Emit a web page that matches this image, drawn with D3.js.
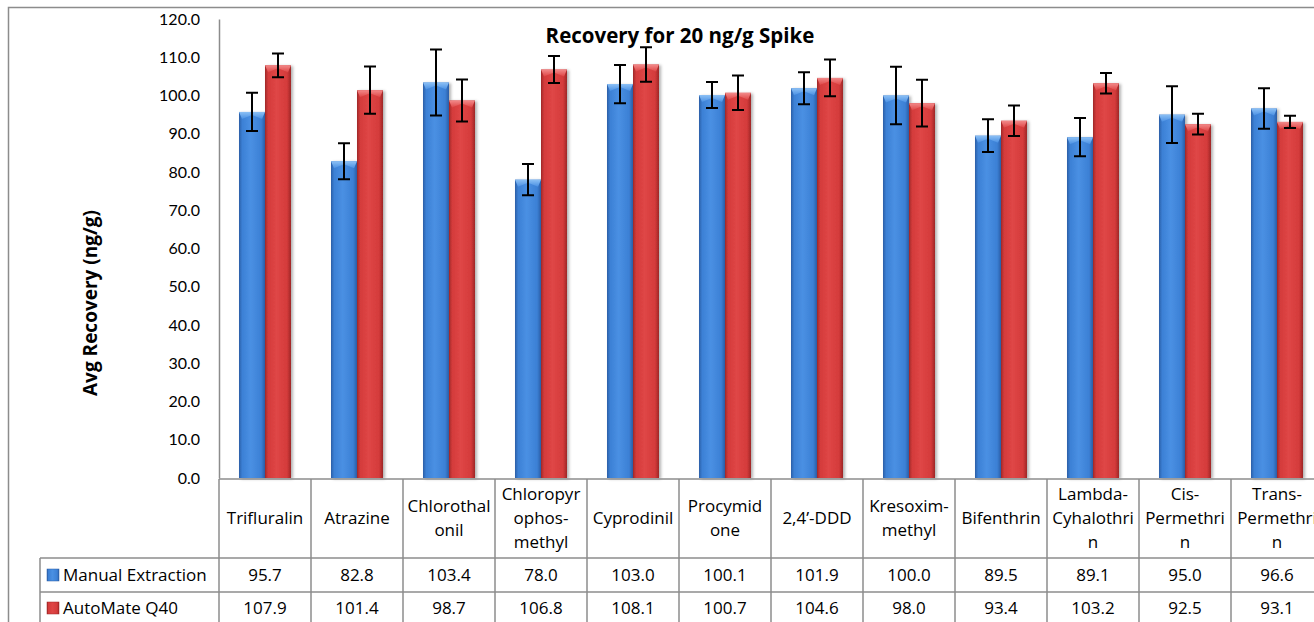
<!DOCTYPE html>
<html>
<head>
<meta charset="utf-8">
<script src="https://cdn.jsdelivr.net/npm/d3@7"></script>
<style>
  body { margin: 0; background: #fff; }
  svg { display: block; font-family: "Open Sans", Lato, sans-serif; }
</style>
</head>
<body>
<svg id="chart" width="1314" height="622"></svg>
<script>
// data
var categories = ["Trifluralin", "Atrazine", "Chlorothalonil", "Chloropyrophos-methyl", "Cyprodinil",
  "Procymidone", "2,4’-DDD", "Kresoxim-methyl", "Bifenthrin", "Lambda-Cyhalothrin", "Cis-Permethrin", "Trans-Permethrin"];
var headerLines = [["Trifluralin"], ["Atrazine"], ["Chlorothal", "onil"], ["Chloropyr", "ophos-", "methyl"],
  ["Cyprodinil"], ["Procymid", "one"], ["2,4’-DDD"], ["Kresoxim-", "methyl"], ["Bifenthrin"],
  ["Lambda-", "Cyhalothri", "n"], ["Cis-", "Permethri", "n"], ["Trans-", "Permethri", "n"]];
var seriesNames = ["Manual Extraction", "AutoMate Q40"];
var manual = [95.7, 82.8, 103.4, 78.0, 103.0, 100.1, 101.9, 100.0, 89.5, 89.1, 95.0, 96.6];
var automate = [107.9, 101.4, 98.7, 106.8, 108.1, 100.7, 104.6, 98.0, 93.4, 103.2, 92.5, 93.1];
var manualErr = [5.0, 4.7, 8.6, 4.1, 5.0, 3.4, 4.2, 7.5, 4.3, 5.0, 7.4, 5.3];
var automateErr = [3.1, 6.2, 5.5, 3.5, 4.5, 4.5, 4.8, 6.1, 4.0, 2.7, 2.7, 1.6];
var yTicks = [0, 10, 20, 30, 40, 50, 60, 70, 80, 90, 100, 110, 120];

var series = [
  {name: seriesNames[0], values: manual, err: manualErr, key: "blue"},
  {name: seriesNames[1], values: automate, err: automateErr, key: "red"}
];

var svg = d3.select("#chart");
var grid = "#8c8c8c";

var cellW = 92;
var left = 219, plotTop = 19, plotBottom = 478;
var x = d3.scaleBand()
  .domain(categories)
  .range([left, left + cellW * categories.length]);
var xs = d3.scaleBand()
  .domain(seriesNames)
  .range([20, 72]);
var y = d3.scaleLinear()
  .domain([0, 120])
  .range([plotBottom, plotTop]);

// gradients
var defs = svg.append("defs");
var palette = {
  blue: {edge: "#2b5ea6", mid: "#3c80d5", light: "#4a90e3", top: "#8cc0f5"},
  red: {edge: "#9e2626", mid: "#d43b3b", light: "#df4646", top: "#f28a8a"}
};
Object.keys(palette).forEach(function(k) {
  var p = palette[k];
  var g = defs.append("linearGradient").attr("id", "body-" + k).attr("x1", "0").attr("x2", "1");
  g.append("stop").attr("offset", "0").attr("stop-color", p.edge);
  g.append("stop").attr("offset", "0.12").attr("stop-color", p.mid);
  g.append("stop").attr("offset", "0.45").attr("stop-color", p.light);
  g.append("stop").attr("offset", "0.85").attr("stop-color", p.mid);
  g.append("stop").attr("offset", "1").attr("stop-color", p.edge);
  var t = defs.append("linearGradient").attr("id", "top-" + k).attr("x1", "0").attr("x2", "0").attr("y1", "0").attr("y2", "1");
  t.append("stop").attr("offset", "0").attr("stop-color", p.top);
  t.append("stop").attr("offset", "1").attr("stop-color", p.light);
});
var shadow = defs.append("filter").attr("id", "shadow").attr("x", "-20%").attr("y", "-5%").attr("width", "150%").attr("height", "115%");
shadow.append("feDropShadow").attr("dx", 2).attr("dy", 1).attr("stdDeviation", 1.5)
  .attr("flood-color", "#000").attr("flood-opacity", 0.3);

// outer chart border
svg.append("path")
  .attr("d", "M8.5,622 V7.5 H1314")
  .attr("fill", "none").attr("stroke", grid).attr("stroke-width", 1.5);

// title
svg.append("text")
  .attr("x", 680).attr("y", 43)
  .attr("text-anchor", "middle")
  .attr("font-weight", "bold").attr("font-size", 20.5)
  .text("Recovery for 20 ng/g Spike");

// y axis label
svg.append("text")
  .attr("transform", "translate(97,303) rotate(-90)")
  .attr("text-anchor", "middle")
  .attr("font-weight", "bold").attr("font-size", 19)
  .text("Avg Recovery (ng/g)");

// y axis
var yAxis = svg.append("g")
  .attr("transform", "translate(" + left + ",0)")
  .call(d3.axisLeft(y).tickValues(yTicks).tickFormat(d3.format(".1f")).tickSize(0).tickSizeOuter(0).tickPadding(19));
yAxis.select(".domain").attr("stroke", grid).attr("stroke-width", 1.5);
yAxis.selectAll("text").attr("font-size", 16).attr("font-family", "Lato").attr("fill", "#000");

// bars
var groups = svg.selectAll("g.cat")
  .data(categories)
  .enter().append("g")
  .attr("class", "cat")
  .attr("transform", function(d) { return "translate(" + x(d) + ",0)"; });

series.forEach(function(s) {
  var bw = xs.bandwidth();
  var bar = groups.append("g").attr("filter", "url(#shadow)");
  bar.append("rect")
    .attr("x", xs(s.name))
    .attr("y", function(d, i) { return y(s.values[i]); })
    .attr("width", bw)
    .attr("height", function(d, i) { return y(0) - y(s.values[i]); })
    .attr("fill", "url(#body-" + s.key + ")");
  // bevelled top face
  bar.append("path")
    .attr("d", function(d, i) {
      var x0 = xs(s.name), x1 = x0 + bw, yt = y(s.values[i]);
      return "M" + x0 + "," + yt + "H" + x1 + "L" + (x1 - 3) + "," + (yt + 7) +
        "L" + (x0 + bw / 2) + "," + (yt + 3) + "L" + (x0 + 3) + "," + (yt + 7) + "Z";
    })
    .attr("fill", "url(#top-" + s.key + ")");
});

// error bars
series.forEach(function(s) {
  var cx = xs(s.name) + xs.bandwidth() / 2;
  var eb = groups.append("g").attr("stroke", "#000").attr("stroke-width", 2).attr("fill", "none");
  eb.append("path")
    .attr("d", function(d, i) {
      var hi = y(s.values[i] + s.err[i]), lo = y(s.values[i] - s.err[i]);
      return "M" + cx + "," + hi + "V" + lo +
        "M" + (cx - 6) + "," + hi + "H" + (cx + 6) +
        "M" + (cx - 6) + "," + lo + "H" + (cx + 6);
    });
});

// data table
var rowTop = 479, rowMid = 558, rowA = 592, rowEnd = 622, legendLeft = 40;
var table = svg.append("g").attr("stroke", grid).attr("stroke-width", 1.5).attr("fill", "none");
table.append("line").attr("x1", left).attr("x2", 1314).attr("y1", rowTop).attr("y2", rowTop);
[rowMid, rowA].forEach(function(yy) {
  table.append("line").attr("x1", legendLeft).attr("x2", 1314).attr("y1", yy).attr("y2", yy);
});
table.append("line").attr("x1", legendLeft).attr("x2", legendLeft).attr("y1", rowMid).attr("y2", rowEnd);
d3.range(categories.length + 1).forEach(function(i) {
  var xx = left + i * cellW;
  table.append("line").attr("x1", xx).attr("x2", xx).attr("y1", rowTop).attr("y2", rowEnd);
});

// header labels
var lineH = 24;
groups.append("text")
  .attr("text-anchor", "middle")
  .attr("font-size", 17)
  .each(function(d, i) {
    var lines = headerLines[i];
    var y0 = 518 - (lines.length - 1) * lineH / 2 + 6;
    d3.select(this).selectAll("tspan")
      .data(lines)
      .enter().append("tspan")
      .attr("x", x.bandwidth() / 2)
      .attr("y", function(l, j) { return y0 + j * lineH; })
      .text(function(l) { return l; });
  });

// value rows
var rowCenters = [575, 608];
series.forEach(function(s, si) {
  groups.append("text")
    .attr("x", x.bandwidth() / 2)
    .attr("y", rowCenters[si] + 6)
    .attr("text-anchor", "middle")
    .attr("font-size", 17)
    .text(function(d, i) { return s.values[i].toFixed(1); });

  svg.append("rect")
    .attr("x", 47).attr("y", rowCenters[si] - 6)
    .attr("width", 12).attr("height", 12)
    .attr("fill", "url(#body-" + s.key + ")")
    .attr("stroke", palette[s.key].edge).attr("stroke-width", 0.5);
  svg.append("text")
    .attr("x", 63).attr("y", rowCenters[si] + 6)
    .attr("font-size", 17)
    .text(s.name);
});
</script>
</body>
</html>
